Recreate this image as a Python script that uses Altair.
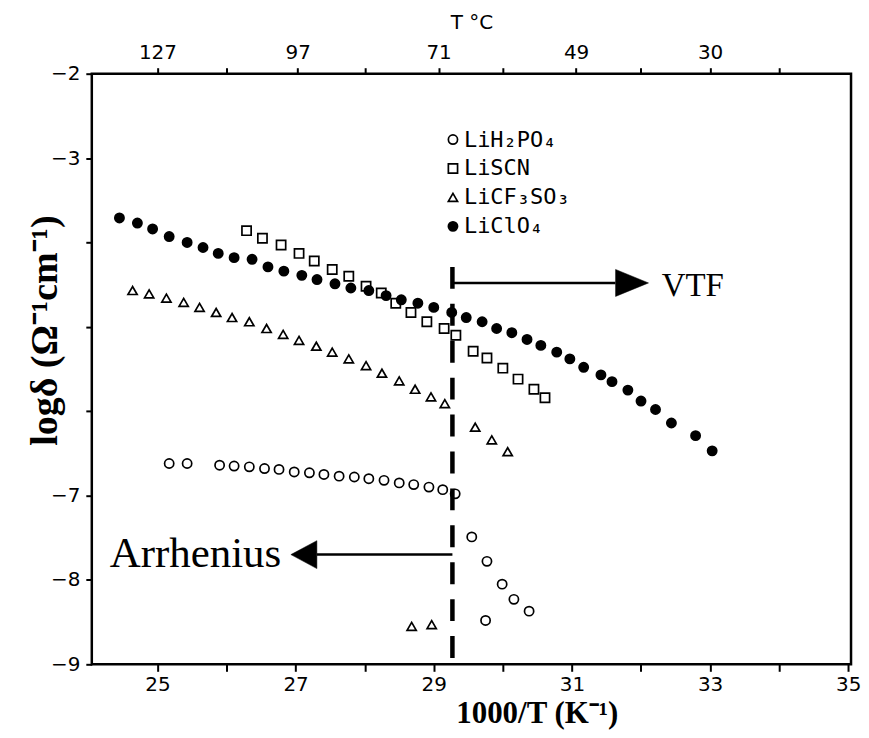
import altair as alt
import pandas as pd

# ---------------- data ----------------
series_names = ["LiH₂PO₄", "LiSCN", "LiCF₃SO₃", "LiClO₄"]
series_shapes = ["circle", "square", "triangle-up", "circle"]
series_fills = ["transparent", "transparent", "transparent", "black"]
series_strokes = ["black", "black", "black", "black"]

clo4_x = [24.45, 24.71, 24.93, 25.17, 25.43, 25.66, 25.88, 26.11, 26.37, 26.60,
          26.83, 27.09, 27.31, 27.57, 27.80, 28.06, 28.31, 28.53, 28.77, 29.00,
          29.26, 29.47, 29.70, 29.91, 30.13, 30.35, 30.55, 30.78, 30.97, 31.17,
          31.42, 31.58, 31.81, 32.00, 32.21, 32.44, 32.79, 33.03]
clo4_y = [-3.71, -3.77, -3.84, -3.93, -4.00, -4.06, -4.13, -4.18, -4.20, -4.29,
          -4.34, -4.39, -4.44, -4.49, -4.54, -4.57, -4.63, -4.68, -4.72, -4.77,
          -4.83, -4.89, -4.94, -5.02, -5.07, -5.15, -5.22, -5.30, -5.38, -5.48,
          -5.57, -5.65, -5.75, -5.88, -5.98, -6.14, -6.29, -6.47]

scn_x = [26.29, 26.52, 26.79, 27.05, 27.27, 27.53, 27.77, 28.02, 28.24, 28.45,
         28.67, 28.90, 29.15, 29.32, 29.57, 29.77, 30.00, 30.22, 30.45, 30.61]
scn_y = [-3.86, -3.95, -4.03, -4.13, -4.22, -4.32, -4.40, -4.52, -4.60, -4.72,
         -4.83, -4.94, -5.02, -5.10, -5.29, -5.37, -5.49, -5.62, -5.74, -5.84]

cf3_x = [24.64, 24.88, 25.13, 25.38, 25.61, 25.85, 26.08, 26.33, 26.58, 26.82,
         27.05, 27.30, 27.53, 27.77, 28.02, 28.25, 28.50, 28.73, 28.96, 29.16,
         29.60, 29.84, 30.07, 28.68, 28.97]
cf3_y = [-4.57, -4.61, -4.66, -4.71, -4.77, -4.83, -4.89, -4.94, -5.02, -5.09,
         -5.16, -5.23, -5.30, -5.38, -5.46, -5.55, -5.64, -5.74, -5.83, -5.91,
         -6.19, -6.34, -6.48, -8.55, -8.53]

h2po4_x = [25.17, 25.43, 25.90, 26.11, 26.33, 26.55, 26.76, 26.98, 27.20, 27.41,
           27.63, 27.85, 28.06, 28.28, 28.50, 28.71, 28.93, 29.13, 29.31,
           29.55, 29.77, 29.99, 30.16, 30.38, 29.75]
h2po4_y = [-6.62, -6.62, -6.64, -6.65, -6.66, -6.68, -6.69, -6.72, -6.73, -6.75,
           -6.77, -6.78, -6.80, -6.82, -6.85, -6.87, -6.90, -6.93, -6.98,
           -7.49, -7.78, -8.05, -8.23, -8.37, -8.48]

# axes
x_domain = [24.05, 35.04]
y_domain = [-9, -2]
x_ticks = [25, 26, 27, 28, 29, 30, 31, 32, 33, 34, 35]
y_ticks = [-9, -8.5, -8, -7.5, -7, -6.5, -6, -5.5, -5, -4.5, -4, -3.5, -3, -2.5, -2]
y_labeled = [-2, -3, -7, -8, -9]
top_labels_C = [127, 97, 71, 49, 30]
top_minor = [26, 28, 30, 32, 34]

# annotations
dash_x = 29.27
dash_top = -4.29
vtf_line = [29.27, 31.63, -4.48]
vtf_head = [31.87, -4.48]
vtf_text = [32.30, -4.63]
arr_line = [27.31, 29.27, -7.70]
arr_head = [27.12, -7.70]
arr_text = [24.31, -7.85]

# ---------------- build ----------------
rows = []
for name, xs, ys in [(series_names[3], clo4_x, clo4_y),
                     (series_names[1], scn_x, scn_y),
                     (series_names[2], cf3_x, cf3_y),
                     (series_names[0], h2po4_x, h2po4_y)]:
    for a, b in zip(xs, ys):
        rows.append({"x": a, "y": b, "series": name})
df = pd.DataFrame(rows)

top_major = [round(10000 / (c + 273), 2) for c in top_labels_C]
top_vals = sorted(top_major + top_minor)

xscale = alt.Scale(domain=x_domain, nice=False, zero=False)
yscale = alt.Scale(domain=y_domain, nice=False, zero=False)

PLOT_W, PLOT_H = 761, 592

bottom_axis = alt.Axis(
    orient="bottom", values=x_ticks,
    labelExpr="datum.value % 2 == 1 ? datum.label : ''",
    domain=False, grid=False, ticks=True, tickSize=7, tickWidth=2, tickColor="black",
    labelFont="DejaVu Sans", labelFontSize=20, labelColor="black", labelPadding=3,
    title="1000/T (K⁻¹)", titleFont="Liberation Serif", titleFontSize=31,
    titleFontWeight="bold", titleColor="black",
    titleX=446, titleY=58, titleAlign="center", titleBaseline="alphabetic",
)
left_axis = alt.Axis(
    orient="left", values=y_ticks, format="d",
    labelExpr="indexof(" + str(y_labeled) + ", datum.value) >= 0 ? datum.label : ''",
    domain=False, grid=False, tickSize=6, tickWidth=2, tickColor="black",
    labelFont="DejaVu Sans", labelFontSize=20, labelColor="black", labelPadding=6,
    title="logδ (Ω⁻¹cm⁻¹)", titleFont="Liberation Serif", titleFontSize=38,
    titleFontWeight="bold", titleColor="black",
    titleX=-46, titleY=257, titleAngle=270, titleAlign="center", titleBaseline="middle",
)
top_axis = alt.Axis(
    orient="top", values=top_vals,
    labelExpr="indexof(" + str(top_major) + ", datum.value) >= 0 ? format(10000 / datum.value - 273, '.0f') : ''",
    domain=False, grid=False, tickSize=6, tickWidth=2, tickColor="black",
    labelFont="DejaVu Sans", labelFontSize=20, labelColor="black", labelPadding=5,
    title="T °C", titleFont="DejaVu Sans", titleFontSize=20, titleFontWeight="normal",
    titleColor="black", titleY=-45, titleBaseline="alphabetic",
)

legend = alt.Legend(
    orient="none", legendX=351, legendY=55, title=None, padding=0,
    labelFont="DejaVu Sans Mono", labelFontSize=22, labelColor="black", labelOffset=0,
    symbolStrokeWidth=1.7, symbolSize=85, rowPadding=7,
)

points = alt.Chart(df).mark_point(filled=True, size=85, strokeWidth=1.7, opacity=1).encode(
    x=alt.X("x:Q", scale=xscale, axis=bottom_axis),
    y=alt.Y("y:Q", scale=yscale, axis=left_axis),
    shape=alt.Shape("series:N", scale=alt.Scale(domain=series_names, range=series_shapes),
                    legend=legend),
    fill=alt.Fill("series:N", scale=alt.Scale(domain=series_names, range=series_fills),
                  legend=legend),
    stroke=alt.Stroke("series:N", scale=alt.Scale(domain=series_names, range=series_strokes),
                      legend=legend),
)

dash = alt.Chart(pd.DataFrame({"x": [dash_x], "y": [dash_top], "y2": [y_domain[0]]})).mark_rule(
    strokeDash=[22, 15], strokeWidth=4.5, color="black").encode(
    x=alt.X("x:Q", scale=xscale, axis=top_axis),
    y=alt.Y("y:Q", scale=yscale, axis=None),
    y2="y2:Q",
)

lines = alt.Chart(pd.DataFrame({"x": [vtf_line[0], arr_line[0]],
                                "x2": [vtf_line[1], arr_line[1]],
                                "y": [vtf_line[2], arr_line[2]]})).mark_rule(
    strokeWidth=2.5, color="black").encode(
    x=alt.X("x:Q", scale=xscale, axis=None), x2="x2:Q",
    y=alt.Y("y:Q", scale=yscale, axis=None),
)

head_r = alt.Chart(pd.DataFrame({"x": [vtf_head[0]], "y": [vtf_head[1]]})).mark_point(
    shape="M-1,-0.82L1,0L-1,0.82Z", size=1089, filled=True, fill="black",
    stroke="black", strokeWidth=0.5, opacity=1).encode(
    x=alt.X("x:Q", scale=xscale, axis=None), y=alt.Y("y:Q", scale=yscale, axis=None))

head_l = alt.Chart(pd.DataFrame({"x": [arr_head[0]], "y": [arr_head[1]]})).mark_point(
    shape="M0.93,-1L-0.93,0L0.93,1Z", size=784, filled=True, fill="black",
    stroke="black", strokeWidth=0.5, opacity=1).encode(
    x=alt.X("x:Q", scale=xscale, axis=None), y=alt.Y("y:Q", scale=yscale, axis=None))

txt_vtf = alt.Chart(pd.DataFrame({"x": [vtf_text[0]], "y": [vtf_text[1]], "t": ["VTF"]})).mark_text(
    font="Liberation Serif", fontSize=33, align="left", baseline="alphabetic", color="black").encode(
    x=alt.X("x:Q", scale=xscale, axis=None), y=alt.Y("y:Q", scale=yscale, axis=None), text="t:N")

txt_arr = alt.Chart(pd.DataFrame({"x": [arr_text[0]], "y": [arr_text[1]], "t": ["Arrhenius"]})).mark_text(
    font="Liberation Serif", fontSize=43, align="left", baseline="alphabetic", color="black").encode(
    x=alt.X("x:Q", scale=xscale, axis=None), y=alt.Y("y:Q", scale=yscale, axis=None), text="t:N")

chart = alt.layer(points, dash, lines, head_r, head_l, txt_vtf, txt_arr).resolve_axis(
    x="independent", y="independent"
).properties(
    width=PLOT_W, height=PLOT_H,
    autosize=alt.AutoSizeParams(type="none"),
    padding={"left": 84, "top": 65, "right": 10, "bottom": 65},
    background="white",
).configure_view(stroke="black", strokeWidth=2.5)

chart.save("out.html", embed_options={"renderer": "svg", "actions": False})
